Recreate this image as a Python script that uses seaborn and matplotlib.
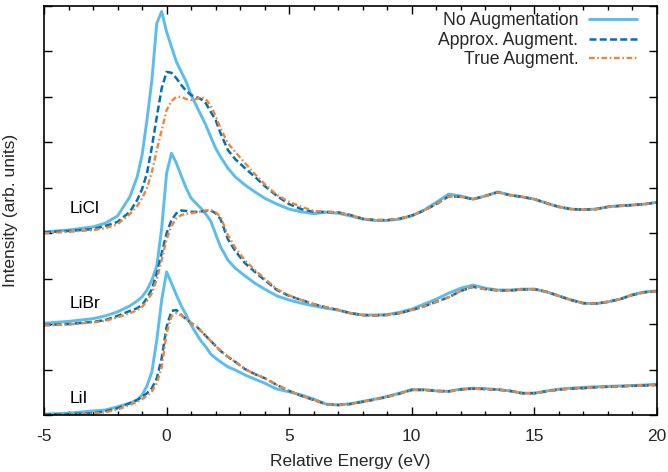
import numpy as np
import pandas as pd
import matplotlib
matplotlib.use("Agg")
import matplotlib.pyplot as plt
import seaborn as sns
from matplotlib.ticker import MultipleLocator
from matplotlib.lines import Line2D

# ---------------- data ----------------
energy = [-5, -4, -3, -2.5, -2, -1.5, -1.2, -1.0, -0.8, -0.6,
          -0.4, -0.2, 0.0, 0.2, 0.4, 0.6, 0.8, 1.0, 1.2, 1.4,
          1.6, 1.8, 2.0, 2.2, 2.5, 2.8, 3.2, 3.6, 4.0, 4.5,
          5.0, 5.5, 6.0, 6.5, 7.0, 7.5, 8.0, 8.5, 9.0, 9.5,
          10, 10.5, 11, 11.5, 12, 12.5, 13, 13.5, 14, 14.5,
          15, 15.5, 16, 16.5, 17, 17.5, 18, 18.5, 19, 19.5, 20]

compounds = ["LiCl", "LiBr", "LiI"]
offsets = [4.0, 2.0, 0.0]
methods = ["No Augmentation", "Approx. Augment.", "True Augment."]

licl_none = [0.03, 0.07, 0.14, 0.22, 0.38, 0.80, 1.24, 1.72, 2.49, 3.37,
             4.62, 4.88, 4.43, 4.10, 3.77, 3.55, 3.33, 3.04, 2.82, 2.60,
             2.38, 2.12, 1.87, 1.68, 1.43, 1.24, 1.06, 0.91, 0.77, 0.64,
             0.53, 0.47, 0.43, 0.46, 0.44, 0.38, 0.31, 0.28, 0.28, 0.31,
             0.38, 0.51, 0.68, 0.86, 0.82, 0.75, 0.82, 0.91, 0.84, 0.80,
             0.75, 0.66, 0.58, 0.53, 0.52, 0.53, 0.58, 0.61, 0.62, 0.64, 0.68]
licl_approx = [0.02, 0.05, 0.09, 0.16, 0.25, 0.47, 0.73, 0.97, 1.32, 1.90,
               2.56, 3.19, 3.55, 3.53, 3.41, 3.26, 3.13, 3.04, 3.00, 2.95,
               2.86, 2.67, 2.49, 2.20, 1.83, 1.63, 1.43, 1.24, 1.04, 0.82,
               0.64, 0.53, 0.47, 0.47, 0.46, 0.40, 0.32, 0.29, 0.29, 0.32,
               0.39, 0.50, 0.64, 0.81, 0.80, 0.75, 0.82, 0.90, 0.84, 0.80,
               0.75, 0.66, 0.58, 0.53, 0.52, 0.53, 0.58, 0.60, 0.62, 0.64, 0.68]
licl_true = [0.00, 0.03, 0.07, 0.11, 0.20, 0.42, 0.60, 0.77, 0.99, 1.35,
             1.83, 2.27, 2.71, 2.91, 3.00, 3.00, 2.95, 2.93, 2.95, 3.00,
             2.95, 2.80, 2.58, 2.31, 1.98, 1.79, 1.54, 1.30, 1.08, 0.84,
             0.69, 0.58, 0.49, 0.47, 0.46, 0.40, 0.32, 0.29, 0.29, 0.32,
             0.39, 0.50, 0.64, 0.81, 0.80, 0.75, 0.82, 0.90, 0.84, 0.80,
             0.75, 0.66, 0.58, 0.53, 0.52, 0.53, 0.58, 0.60, 0.62, 0.64, 0.68]

libr_none = [0.02, 0.06, 0.12, 0.18, 0.27, 0.40, 0.51, 0.60, 0.75, 0.97,
             1.28, 2.11, 3.32, 3.76, 3.54, 3.26, 2.99, 2.77, 2.66, 2.55,
             2.42, 2.27, 1.98, 1.70, 1.41, 1.23, 1.06, 0.90, 0.77, 0.62,
             0.53, 0.46, 0.40, 0.35, 0.31, 0.24, 0.20, 0.20, 0.21, 0.26,
             0.33, 0.44, 0.55, 0.68, 0.79, 0.86, 0.79, 0.75, 0.75, 0.77,
             0.77, 0.71, 0.62, 0.53, 0.46, 0.45, 0.49, 0.55, 0.65, 0.71, 0.73]
libr_approx = [-0.02, 0.00, 0.05, 0.09, 0.18, 0.29, 0.35, 0.42, 0.57, 0.77,
               1.12, 1.56, 2.00, 2.29, 2.44, 2.50, 2.49, 2.47, 2.47, 2.48,
               2.49, 2.50, 2.44, 2.31, 1.87, 1.61, 1.34, 1.15, 0.97, 0.75,
               0.62, 0.53, 0.44, 0.37, 0.31, 0.24, 0.20, 0.19, 0.20, 0.24,
               0.31, 0.39, 0.49, 0.59, 0.73, 0.82, 0.77, 0.74, 0.74, 0.76,
               0.77, 0.71, 0.62, 0.53, 0.46, 0.45, 0.49, 0.55, 0.64, 0.70, 0.72]
libr_true = [-0.03, -0.01, 0.04, 0.07, 0.15, 0.24, 0.31, 0.38, 0.51, 0.68,
             0.99, 1.41, 1.87, 2.16, 2.33, 2.40, 2.43, 2.44, 2.46, 2.48,
             2.50, 2.51, 2.46, 2.36, 1.96, 1.68, 1.40, 1.19, 1.00, 0.77,
             0.63, 0.53, 0.44, 0.37, 0.31, 0.24, 0.20, 0.19, 0.20, 0.24,
             0.31, 0.39, 0.49, 0.59, 0.73, 0.82, 0.77, 0.74, 0.74, 0.76,
             0.77, 0.71, 0.62, 0.53, 0.46, 0.45, 0.49, 0.55, 0.64, 0.70, 0.72]

lii_none = [0.02, 0.04, 0.09, 0.11, 0.18, 0.26, 0.33, 0.44, 0.64, 0.95,
            1.65, 2.53, 3.15, 2.90, 2.64, 2.40, 2.20, 1.98, 1.80, 1.63,
            1.50, 1.34, 1.25, 1.17, 1.06, 0.99, 0.88, 0.79, 0.70, 0.57,
            0.51, 0.44, 0.35, 0.24, 0.22, 0.25, 0.30, 0.35, 0.41, 0.48,
            0.56, 0.56, 0.53, 0.52, 0.57, 0.59, 0.58, 0.56, 0.53, 0.48,
            0.48, 0.53, 0.57, 0.59, 0.61, 0.62, 0.63, 0.64, 0.65, 0.66, 0.68]
lii_approx = [0.01, 0.02, 0.04, 0.08, 0.15, 0.26, 0.33, 0.40, 0.48, 0.59,
              0.81, 1.25, 1.94, 2.29, 2.31, 2.20, 2.11, 2.02, 1.96, 1.85,
              1.74, 1.63, 1.52, 1.41, 1.28, 1.17, 1.01, 0.90, 0.81, 0.66,
              0.53, 0.42, 0.33, 0.24, 0.22, 0.24, 0.29, 0.34, 0.40, 0.47,
              0.55, 0.55, 0.53, 0.52, 0.56, 0.58, 0.57, 0.56, 0.53, 0.48,
              0.48, 0.52, 0.56, 0.58, 0.59, 0.61, 0.62, 0.63, 0.64, 0.65, 0.66]
lii_true = [0.00, 0.01, 0.03, 0.06, 0.12, 0.22, 0.29, 0.35, 0.42, 0.52,
            0.70, 1.05, 1.80, 2.17, 2.24, 2.20, 2.11, 2.02, 1.96, 1.85,
            1.74, 1.63, 1.52, 1.41, 1.28, 1.17, 1.01, 0.90, 0.81, 0.66,
            0.53, 0.42, 0.33, 0.24, 0.22, 0.24, 0.29, 0.34, 0.40, 0.47,
            0.55, 0.55, 0.53, 0.52, 0.56, 0.58, 0.57, 0.56, 0.53, 0.48,
            0.48, 0.52, 0.56, 0.58, 0.59, 0.61, 0.62, 0.63, 0.64, 0.65, 0.66]

xticks = [-5, 0, 5, 10, 15, 20]
xticklabels = ["-5", "0", "5", "10", "15", "20"]

# ---------------- build table ----------------
series = {
    ("LiCl", "No Augmentation"): licl_none,
    ("LiCl", "Approx. Augment."): licl_approx,
    ("LiCl", "True Augment."): licl_true,
    ("LiBr", "No Augmentation"): libr_none,
    ("LiBr", "Approx. Augment."): libr_approx,
    ("LiBr", "True Augment."): libr_true,
    ("LiI", "No Augmentation"): lii_none,
    ("LiI", "Approx. Augment."): lii_approx,
    ("LiI", "True Augment."): lii_true,
}
rows = []
for comp, off in zip(compounds, offsets):
    for m in methods:
        for e, v in zip(energy, series[(comp, m)]):
            rows.append({"energy": e, "intensity": v + off, "compound": comp, "method": m})
df = pd.DataFrame(rows)

# ---------------- style ----------------
sns.set_theme(style="ticks")
plt.rcParams["font.family"] = ["Liberation Sans", "DejaVu Sans"]

colors = {"No Augmentation": "#5BBDEB", "Approx. Augment.": "#0072B2", "True Augment.": "#F0843C"}
widths = {"No Augmentation": 2.1, "Approx. Augment.": 1.8, "True Augment.": 1.7}
dashes = {"No Augmentation": "", "Approx. Augment.": (2.8, 1.3), "True Augment.": (2.4, 1.1, 0.7, 1.1)}

fig = plt.figure(figsize=(6.68, 4.72), dpi=100)
ax = fig.add_axes([44 / 668, 1 - 415 / 472, 613 / 668, 409 / 472])

for m in methods:
    sub = df[df["method"] == m]
    sns.lineplot(data=sub, x="energy", y="intensity", units="compound", estimator=None,
                 sort=False, color=colors[m], linewidth=widths[m], ax=ax, legend=False,
                 dashes=dashes[m] if dashes[m] else None)

# legend (gnuplot style: text on left, sample on right)
handles = []
for m in methods:
    h = Line2D([0], [0], color=colors[m], lw=widths[m])
    if dashes[m]:
        h.set_dashes(dashes[m])
    handles.append(h)
leg = ax.legend(handles, methods, loc="upper right", bbox_to_anchor=(0.968, 0.985),
                frameon=False, markerfirst=False, alignment="right", fontsize=12.7,
                handlelength=2.75, handletextpad=0.6, labelspacing=0.15,
                borderpad=0.0, borderaxespad=0.0)
for t in leg.get_texts():
    t.set_ha("right")

# compound labels
label_y = [4.55, 2.46, 0.36]
for comp, ly in zip(compounds, label_y):
    ax.text(-3.95, ly, comp, fontsize=12.5, ha="left", va="center", color="black")

ax.set_xlim(-5, 20)
ax.set_ylim(0, 9)
ax.set_xticks(xticks)
ax.set_xticklabels(xticklabels)
ax.xaxis.set_minor_locator(MultipleLocator(1))
ax.yaxis.set_major_locator(MultipleLocator(1))
ax.set_yticklabels([])
ax.tick_params(axis="both", which="major", direction="in", length=6, width=1.0,
               top=True, right=True, labelsize=12.5, pad=10, color="black")
ax.tick_params(axis="both", which="minor", direction="in", length=3.2, width=1.0,
               top=True, right=True, color="black")
for s in ax.spines.values():
    s.set_linewidth(1.2)
    s.set_color("black")
ax.set_xlabel("Relative Energy (eV)", fontsize=12.5, labelpad=7)
ax.set_ylabel("Intensity (arb. units)", fontsize=12.5, labelpad=9)

fig.savefig("out.png", dpi=100)
